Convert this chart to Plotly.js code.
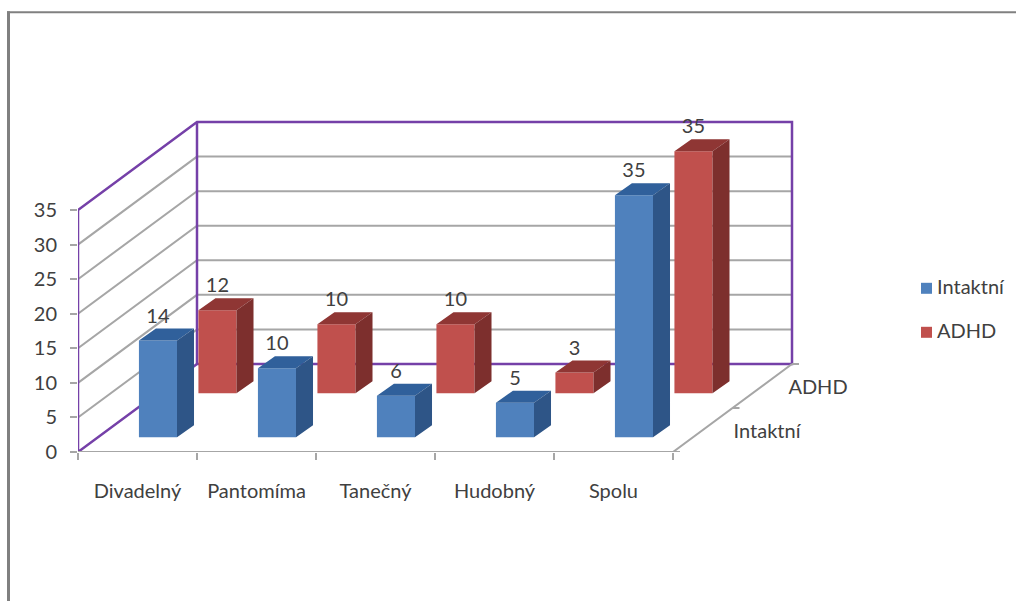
<!DOCTYPE html>
<html>
<head>
<meta charset="utf-8">
<script src="https://cdn.plot.ly/plotly-3.0.1.min.js"></script>
<style>html,body{margin:0;padding:0;background:#fff}#chart{width:1016px;height:601px}</style>
</head>
<body>
<div id="chart"></div>
<script>
// Chart data
var categories = ['Divadelný', 'Pantomíma', 'Tanečný', 'Hudobný', 'Spolu'];
var intaktni = [14, 10, 6, 5, 35];
var adhd = [12, 10, 10, 3, 35];
var depthLabels = ['Intaktní', 'ADHD'];
var yTicks = [0, 5, 10, 15, 20, 25, 30, 35];
var gridValues = [5, 10, 15, 20, 25, 30];

// Oblique projection in axis units: one depth slot moves along (slotX, slotY)
var pxPerX = 119, pxPerY = 6.914;
var slotX = 0.5, slotY = 44 / pxPerY;
var frontGap = 2.125;          // bar floor of the front row above the axis floor
var barLeft = 0.512, barWidth = 0.32;
var sideX = 17 / pxPerX, sideY = 12 / pxPerY;
var yMax = 35, nCat = categories.length;

var GREY = '#a6a6a6', PURPLE = '#7540a8', TEXT = '#404040';
var FONT = 'Lato, "Open Sans", sans-serif';
var SIZE = 20;

// Plot area spans pixels x 78..1010 and y 101.7..451.7
var plotW = 932, plotH = 350, floorPx = 451.7;
function paperX(px) { return (px - 78) / plotW; }
function paperY(py) { return (floorPx - py) / plotH; }
function dataX(px) { return (px - 78) / pxPerX; }
function dataY(py) { return (floorPx - py) / pxPerY; }

function wallLine(x, y, color, width) {
  return {x: x, y: y, mode: 'lines', line: {color: color, width: width},
          hoverinfo: 'skip', showlegend: false};
}

// Gridlines over the left and back walls
var backX = nCat + 1, wallDX = 2 * slotX, wallDY = 2 * slotY;
var gx = [], gy = [];
gridValues.forEach(function (v) {
  gx.push(0, wallDX, backX, null);
  gy.push(v, v + wallDY, v + wallDY, null);
});
var traces = [wallLine(gx, gy, GREY, 2)];

// Purple wall frame
traces.push(wallLine(
  [0, 0, wallDX, backX, backX, wallDX, 0, null, wallDX, wallDX],
  [0, yMax, yMax + wallDY, yMax + wallDY, wallDY, wallDY, 0, null, wallDY, yMax + wallDY],
  PURPLE, 2.5));

// Front and right floor edges with the depth-axis ticks
var tickDX = 7 / pxPerX;
traces.push(wallLine(
  [0, nCat, backX, null, nCat, nCat + tickDX, null,
   nCat + slotX, nCat + slotX + tickDX, null, backX, backX + tickDX],
  [0, 0, wallDY, null, 0, 0, null, slotY, slotY, null, wallDY, wallDY],
  GREY, 2));

// Three visible faces of every bar in a row
function faces(values, row, colors) {
  var front = {x: [], y: []}, top = {x: [], y: []}, side = {x: [], y: []};
  var bx = barLeft + row * slotX, by = frontGap + row * slotY;
  values.forEach(function (v, i) {
    var l = i + bx, r = l + barWidth, b = by, t = by + v;
    front.x.push(l, r, r, l, l, null);
    front.y.push(b, b, t, t, b, null);
    top.x.push(l, r, r + sideX, l + sideX, l, null);
    top.y.push(t, t, t + sideY, t + sideY, t, null);
    side.x.push(r, r + sideX, r + sideX, r, r, null);
    side.y.push(b, b + sideY, t + sideY, t, b, null);
  });
  return [[front, colors.front], [top, colors.top], [side, colors.side]].map(function (f) {
    return {x: f[0].x, y: f[0].y, mode: 'lines', fill: 'toself', fillcolor: f[1],
            line: {width: 0, color: f[1]}, hoverinfo: 'skip', showlegend: false};
  });
}
var blue = {front: '#4f81bd', top: '#30609b', side: '#2e5587'};
var red = {front: '#c0504d', top: '#8f3634', side: '#7d2f2d'};
traces = traces.concat(faces(adhd, 1, red), faces(intaktni, 0, blue));

// Value labels above each bar
function valueLabels(values, row) {
  return {
    x: values.map(function (v, i) { return i + barLeft + barWidth / 2 + row * slotX; }),
    y: values.map(function (v) { return frontGap + row * slotY + v + 23 / pxPerY; }),
    text: values.map(String), mode: 'text', textposition: 'middle center',
    textfont: {family: FONT, size: SIZE, color: TEXT}, cliponaxis: false,
    hoverinfo: 'skip', showlegend: false
  };
}
traces.push(valueLabels(adhd, 1), valueLabels(intaktni, 0));

// Series names beside the depth axis
traces.push({
  x: depthLabels.map(function (d, i) { return dataX(767 + i * 51); }),
  y: depthLabels.map(function (d, i) { return dataY(432.5 - i * 44); }),
  text: depthLabels, mode: 'text', textposition: 'middle center',
  textfont: {family: FONT, size: SIZE, color: TEXT}, cliponaxis: false,
  hoverinfo: 'skip', showlegend: false
});

// Colour key on the right
[['Intaktní', blue.front, 288], ['ADHD', red.front, 332]].forEach(function (s) {
  traces.push({x: [dataX(926.5)], y: [dataY(s[2])], name: s[0], mode: 'markers',
               marker: {symbol: 'square', size: 11, color: s[1]},
               hoverinfo: 'skip', showlegend: false});
  traces.push({x: [dataX(937)], y: [dataY(s[2] + 1)], text: [s[0]], mode: 'text',
               textposition: 'middle right', cliponaxis: false,
               textfont: {family: FONT, size: SIZE, color: TEXT},
               hoverinfo: 'skip', showlegend: false});
});

var layout = {
  width: 1016, height: 601,
  margin: {l: 78, r: 6, t: floorPx - plotH, b: 601 - floorPx, pad: 0},
  paper_bgcolor: '#ffffff', plot_bgcolor: 'rgba(0,0,0,0)',
  font: {family: FONT, size: SIZE, color: TEXT},
  hovermode: false, showlegend: false,
  xaxis: {
    range: [0, plotW / pxPerX], tickmode: 'array',
    tickvals: categories.map(function (c, i) { return i + 0.5; }), ticktext: categories,
    ticks: '', ticklen: 0, ticklabelstandoff: 25, showgrid: false, zeroline: false, showline: false,
    minor: {ticks: 'outside', tickmode: 'array', tickvals: [0, 1, 2, 3, 4, 5],
            ticklen: 7, tickwidth: 2, tickcolor: GREY, showgrid: false},
    tickfont: {family: FONT, size: SIZE, color: TEXT}
  },
  yaxis: {
    range: [0, plotH / pxPerY], tickmode: 'array', tickvals: yTicks,
    ticks: 'outside', ticklen: 7, tickwidth: 2, tickcolor: GREY, ticklabelstandoff: 9,
    showgrid: false, zeroline: false, showline: false,
    tickfont: {family: FONT, size: SIZE, color: TEXT}
  },
  shapes: [
    {type: 'line', xref: 'paper', yref: 'paper', x0: paperX(8.5), x1: paperX(8.5), y0: paperY(11), y1: paperY(601),
     line: {color: '#808080', width: 3}},
    {type: 'line', xref: 'paper', yref: 'paper', x0: paperX(7), x1: paperX(1016), y0: paperY(12), y1: paperY(12),
     line: {color: '#808080', width: 2}}
  ]
};

Plotly.newPlot('chart', traces, layout, {displayModeBar: false, staticPlot: true});
</script>
</body>
</html>
